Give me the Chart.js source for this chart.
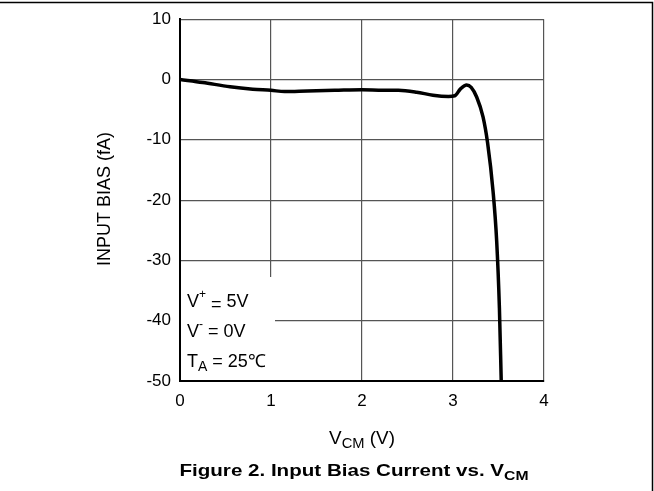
<!DOCTYPE html>
<html>
<head>
<meta charset="utf-8">
<script src="https://cdn.jsdelivr.net/npm/chart.js@4"></script>
<style>
  html, body { margin: 0; padding: 0; background: #fff; }
  #wrap { width: 654px; height: 491px; position: relative; }
</style>
</head>
<body>
<div id="wrap"><canvas id="chart" width="654" height="491"></canvas></div>
<script>
// input bias current vs common-mode voltage
const vcm = [0, 0.25, 0.55, 0.8, 1.0, 1.15, 1.4, 1.7, 2.0, 2.23, 2.4, 2.6, 2.78, 2.95, 3.02, 3.08, 3.15, 3.2, 3.26, 3.33, 3.38, 3.44, 3.48, 3.51, 3.53];
const biasFA = [0, -0.5, -1.2, -1.6, -1.8, -2.0, -1.9, -1.8, -1.7, -1.8, -1.8, -2.1, -2.6, -2.8, -2.7, -1.6, -0.9, -1.3, -2.9, -6.2, -10.5, -18.5, -26.8, -37.9, -50];

const xTicks = [0, 1, 2, 3, 4];
const yTicks = [10, 0, -10, -20, -30, -40, -50];

const FONT = 'Arial, "Liberation Sans", sans-serif';

// text with sub/superscript runs, optional horizontal stretch
function drawRuns(ctx, runs, x, y, align, sx) {
  sx = sx || 1;
  let total = 0;
  runs.forEach(r => { ctx.font = r.font; total += ctx.measureText(r.text).width; });
  total *= sx;
  ctx.save();
  ctx.translate(align === 'center' ? x - total / 2 : x, y);
  ctx.scale(sx, 1);
  ctx.textAlign = 'left';
  ctx.textBaseline = 'alphabetic';
  let cx = 0;
  runs.forEach(r => {
    ctx.font = r.font;
    ctx.fillText(r.text, cx, r.dy || 0);
    cx += ctx.measureText(r.text).width;
  });
  ctx.restore();
}

const decor = {
  id: 'decor',
  beforeDatasetsDraw(chart) {
    const ctx = chart.ctx;
    ctx.save();
    // white box behind the conditions text
    ctx.fillStyle = '#fff';
    ctx.fillRect(181, 277, 94, 103);
    ctx.fillStyle = '#000';
    const f = '18px ' + FONT, s = '12px ' + FONT;
    drawRuns(ctx, [{text: 'V', font: f}, {text: '+', font: s, dy: -9}, {text: ' ', font: f}, {text: '=', font: f, dy: 3}, {text: ' 5V', font: f}], 187, 307);
    drawRuns(ctx, [{text: 'V', font: f}, {text: '-', font: s, dy: -9}, {text: ' = 0V', font: f}], 187, 337);
    drawRuns(ctx, [{text: 'T', font: f}, {text: 'A', font: '14px ' + FONT, dy: 4}, {text: ' = 25℃', font: f}], 187, 367);
    ctx.restore();
  },
  afterDraw(chart) {
    const ctx = chart.ctx;
    ctx.save();
    ctx.fillStyle = '#000';
    // outer frame (top and right only)
    ctx.strokeStyle = '#000';
    ctx.lineWidth = 1.5;
    ctx.beginPath();
    ctx.moveTo(0, 2.5);
    ctx.lineTo(652.5, 2.5);
    ctx.lineTo(652.5, 491);
    ctx.stroke();
    // y title
    ctx.save();
    ctx.translate(105, 199);
    ctx.rotate(-Math.PI / 2);
    ctx.font = '18px ' + FONT;
    ctx.textAlign = 'center';
    ctx.textBaseline = 'middle';
    ctx.fillText('INPUT BIAS (fA)', 0, 0);
    ctx.restore();
    // x title
    drawRuns(ctx, [
      {text: 'V', font: '18px ' + FONT},
      {text: 'CM', font: '14px ' + FONT, dy: 4},
      {text: ' (V)', font: '18px ' + FONT}
    ], 362, 444, 'center', 1.05);
    // caption
    drawRuns(ctx, [
      {text: 'Figure 2. Input Bias Current vs. V', font: 'bold 17px ' + FONT},
      {text: 'CM', font: 'bold 13px ' + FONT, dy: 4}
    ], 354, 476, 'center', 1.21);
    ctx.restore();
  }
};

new Chart(document.getElementById('chart'), {
  type: 'line',
  data: {
    datasets: [{
      data: vcm.map((v, i) => ({x: v, y: biasFA[i]})),
      borderColor: '#000',
      borderWidth: 3.5,
      pointRadius: 0,
      cubicInterpolationMode: 'monotone',
      fill: false
    }]
  },
  options: {
    responsive: false,
    animation: false,
    devicePixelRatio: 1,
    layout: { padding: { top: 19, right: 110, left: 0, bottom: 0 } },
    plugins: { legend: { display: false }, tooltip: { enabled: false } },
    scales: {
      x: {
        type: 'linear',
        min: 0, max: 4,
        afterFit: s => { s.height = 110; },
        afterBuildTicks: s => { s.ticks = xTicks.map(v => ({value: v})); },
        grid: { color: '#555', lineWidth: 1.2, drawTicks: false },
        border: { color: '#000', width: 2 },
        ticks: { color: '#000', font: { family: FONT, size: 17 }, padding: 10 }
      },
      y: {
        min: -50, max: 10,
        afterFit: s => { s.width = 180; },
        afterBuildTicks: s => { s.ticks = yTicks.map(v => ({value: v})); },
        grid: { color: '#555', lineWidth: 1.2, drawTicks: false },
        border: { color: '#000', width: 2 },
        ticks: { color: '#000', font: { family: FONT, size: 17 }, padding: 9 }
      }
    }
  },
  plugins: [decor]
});
</script>
</body>
</html>
